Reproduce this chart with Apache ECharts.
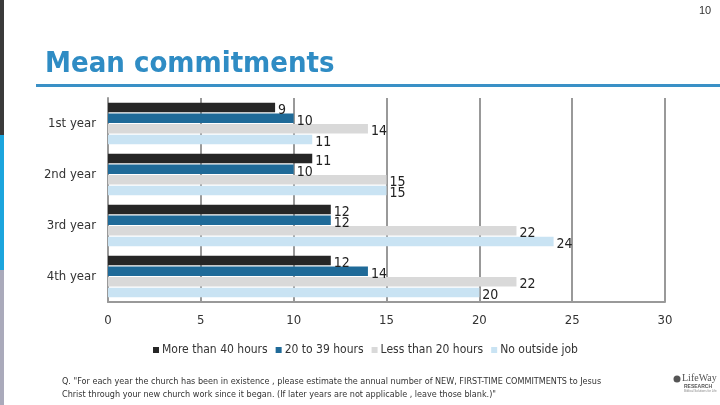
<!DOCTYPE html>
<html>
<head>
<meta charset="utf-8">
<script src="https://cdn.jsdelivr.net/npm/echarts@6/dist/echarts.min.js"></script>
<style>
html,body{margin:0;padding:0;background:#fff;}
#c{width:720px;height:405px;}
</style>
</head>
<body>
<div id="c"></div>
<script>
var categories = ['1st year', '2nd year', '3rd year', '4th year'];
var seriesNames = ['More than 40 hours', '20 to 39 hours', 'Less than 20 hours', 'No outside job'];
var moreThan40 = [9, 11, 12, 12];
var from20to39 = [10, 10, 12, 14];
var lessThan20 = [14, 15, 22, 22];
var noOutsideJob = [11, 15, 24, 20];
var xTicks = [0, 5, 10, 15, 20, 25, 30];

var colors = ['#262626', '#1f6a98', '#d9d9d9', '#c9e3f3'];
var values = [moreThan40, from20to39, lessThan20, noOutsideJob];
var narrow = "'Liberation Sans Narrow', 'DejaVu Sans Condensed', 'Liberation Sans', sans-serif";

var chart = echarts.init(document.getElementById('c'), null, {renderer: 'canvas'});

var series = seriesNames.map(function (n, i) {
  return {
    name: n,
    type: 'bar',
    data: values[i],
    barWidth: 9.5,
    barGap: '12%',
    itemStyle: {color: colors[i]},
    label: {
      show: true,
      position: 'right',
      distance: 3,
      color: '#222',
      fontFamily: narrow,
      fontSize: 14,
      offset: [0, 3]
    }
  };
});

var option = {
  animation: false,
  backgroundColor: '#fff',
  title: {
    text: 'Mean commitments',
    left: 40,
    top: 45,
    textStyle: {
      color: '#2f8cc4',
      fontSize: 29,
      fontWeight: 'bold',
      fontFamily: "'DejaVu Sans Condensed', 'DejaVu Sans', sans-serif"
    }
  },
  legend: {
    data: seriesNames,
    left: 148,
    top: 339,
    itemWidth: 6,
    itemHeight: 6,
    itemGap: 8,
    icon: 'rect',
    textStyle: {color: '#333', fontSize: 12, fontFamily: narrow, padding: [0, 0, 0, -2]}
  },
  grid: {left: 108, right: 55, top: 98, bottom: 103, containLabel: false},
  xAxis: {
    type: 'value',
    min: 0,
    max: 30,
    interval: 5,
    axisLine: {show: true, lineStyle: {color: '#999', width: 2}},
    axisTick: {show: false},
    splitLine: {show: true, lineStyle: {color: '#999', width: 2}},
    axisLabel: {
      color: '#333',
      fontSize: 13,
      fontFamily: narrow,
      margin: 12,
      formatter: function (v) { return xTicks.indexOf(v) >= 0 ? String(v) : ''; }
    }
  },
  yAxis: {
    type: 'category',
    data: categories,
    inverse: true,
    axisLine: {show: true, lineStyle: {color: '#999', width: 2}},
    axisTick: {show: false},
    axisLabel: {color: '#333', fontSize: 13, fontFamily: narrow, margin: 12}
  },
  series: series,
  graphic: [
    {type: 'rect', shape: {x: 0, y: 0, width: 4, height: 135}, style: {fill: '#3a3a3a'}},
    {type: 'rect', shape: {x: 0, y: 135, width: 4, height: 135}, style: {fill: '#1ca5dd'}},
    {type: 'rect', shape: {x: 0, y: 270, width: 4, height: 135}, style: {fill: '#aaaabb'}},
    {type: 'rect', shape: {x: 36, y: 84, width: 684, height: 3}, style: {fill: '#3a90c6'}},
    {type: 'text', left: 699, top: 5, style: {text: '10', fill: '#333', fontSize: 11, fontFamily: "'Liberation Sans', sans-serif"}},
    {type: 'text', left: 62, top: 375, style: {
      text: 'Q. "For each year the church has been in existence , please estimate the annual number of NEW, FIRST-TIME COMMITMENTS to Jesus\nChrist through your new church work since it began. (If later years are not applicable , leave those blank.)"',
      fill: '#333', fontSize: 9, lineHeight: 13, fontFamily: narrow}},
    {type: 'circle', shape: {cx: 677, cy: 379, r: 3.5}, style: {fill: '#555'}},
    {type: 'text', left: 682, top: 373, style: {text: 'LifeWay', fill: '#555', fontSize: 10, fontFamily: "'Liberation Serif', serif"}},
    {type: 'text', left: 684, top: 384, style: {text: 'RESEARCH', fill: '#555', fontSize: 5, fontWeight: 'bold', fontFamily: "'Liberation Sans', sans-serif"}},
    {type: 'text', left: 684, top: 390, style: {text: 'Biblical Solutions for Life', fill: '#888', fontSize: 3, fontFamily: "'Liberation Sans', sans-serif"}}
  ]
};
chart.setOption(option);
</script>
</body>
</html>
